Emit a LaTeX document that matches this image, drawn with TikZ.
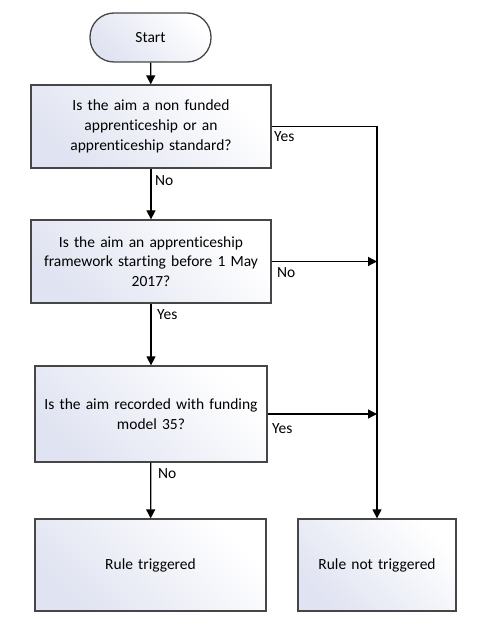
\documentclass[tikz,border=0pt]{standalone}
\usepackage{fontspec}
\setmainfont{Carlito}[Ligatures={NoCommon}]
\usetikzlibrary{arrows.meta}
\definecolor{boxtop}{RGB}{224,227,241}
\definecolor{edge}{RGB}{70,70,70}
\tikzset{
  x=1pt,y=-1pt,
  every node/.style={font=\fontsize{15.5}{19.8}\selectfont},
  procbox/.style={draw=edge, line width=1.3pt, align=center, inner sep=2pt,
    left color=boxtop, right color=white, shading angle=135},
  conn/.style={draw=black, line width=1.3pt, -{Triangle[length=9pt,width=9pt]}},
  lbl/.style={anchor=west, inner sep=0pt}
}
\begin{document}
\begin{tikzpicture}
\useasboundingbox (0,0) rectangle (483,628);
\node[procbox, rounded corners=24pt, minimum width=121pt, minimum height=49pt] (start) at (150.5,37.5) {Start};
\node[procbox, minimum width=240pt, minimum height=83pt, text width=236pt] (b1) at (151,126.5) {Is the aim a non funded\\apprenticeship or an\\apprenticeship standard?};
\node[procbox, minimum width=240pt, minimum height=83pt, text width=236pt] (b2) at (151,261.5) {Is the aim an apprenticeship\\framework starting before 1 May\\2017?};
\node[procbox, minimum width=232pt, minimum height=96pt, text width=228pt] (b3) at (151,414) {Is the aim recorded with funding\\model 35?};
\node[procbox, minimum width=231pt, minimum height=92pt, text width=227pt] (b4) at (150.5,565) {Rule triggered};
\node[procbox, minimum width=158pt, minimum height=92pt, text width=154pt] (b5) at (377,565) {Rule not triggered};
\draw[conn] (start) -- (b1);
\draw[conn] (b1) -- (b2);
\draw[conn] (b2) -- (b3);
\draw[conn] (b3) -- (b4);
\draw[conn] (b1.east) -| (b5.north);
\draw[conn] (b2.east) -- (b2.east -| b5.north);
\draw[conn] (b3.east) -- (b3.east -| b5.north);
\node[lbl] (l1) at (274,137) {Yes};
\node[lbl] (l2) at (155,181) {No};
\node[lbl] (l3) at (277,273) {No};
\node[lbl] (l4) at (157,315) {Yes};
\node[lbl] (l5) at (272,429) {Yes};
\node[lbl] (l6) at (158,474) {No};
\end{tikzpicture}
\end{document}
